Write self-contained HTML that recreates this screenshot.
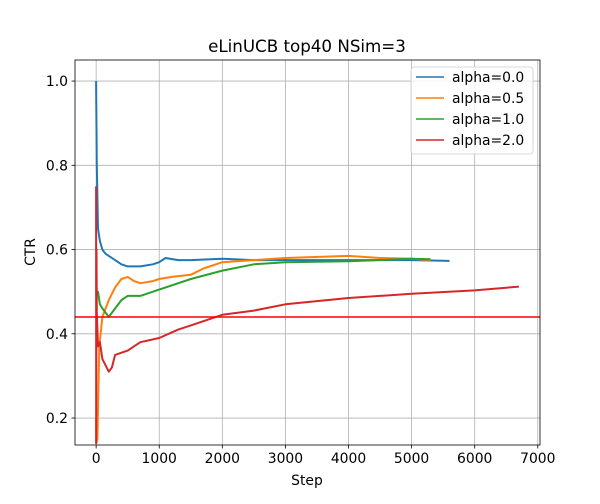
<!DOCTYPE html>
<html><head><meta charset="utf-8"><style>
body{margin:0;background:#fff;font-family:"DejaVu Sans","Liberation Sans",sans-serif}
</style></head><body>
<svg id="chart" width="600" height="500" font-family="DejaVu Sans, Liberation Sans, sans-serif">
<rect width="600" height="500" fill="#fff"/>
<text x="307" y="52" text-anchor="middle" font-size="16.7">eLinUCB top40 NSim=3</text>
<g id="grid"></g><g id="series"></g><g id="axes"></g>
<text x="307" y="485" text-anchor="middle" font-size="13.9">Step</text>
<text x="35" y="252" text-anchor="middle" font-size="13.9" transform="rotate(-90 35 252)">CTR</text>
<g id="legend"></g>
</svg>
<script>
const xTicks=[0,1000,2000,3000,4000,5000,6000,7000];
const yTicks=[0.2,0.4,0.6,0.8,1.0];
const seriesNames=["alpha=0.0","alpha=0.5","alpha=1.0","alpha=2.0"];
const colors=["#1f77b4","#ff7f0e","#2ca02c","#d62728"];
const stepsA=[0,10,30,60,100,150,200,300,400,500,700,900,1000,1100,1300,1500,2000,2500,3000,4000,5000,5600];
const valsA=[1.0,0.8,0.65,0.62,0.60,0.59,0.585,0.575,0.565,0.56,0.56,0.565,0.57,0.58,0.575,0.575,0.578,0.575,0.575,0.575,0.575,0.573];
const stepsB=[0,1,20,50,100,200,300,400,500,600,700,900,1000,1200,1500,1700,2000,2500,3000,4000,4500,5000,5300];
const valsB=[0.2,0.14,0.15,0.37,0.44,0.48,0.51,0.53,0.535,0.525,0.52,0.525,0.53,0.535,0.54,0.555,0.57,0.575,0.58,0.585,0.58,0.578,0.575];
const stepsC=[0,30,60,100,200,300,400,500,700,1000,1500,2000,2500,3000,4000,5000,5300];
const valsC=[0.5,0.5,0.47,0.46,0.44,0.46,0.48,0.49,0.49,0.505,0.53,0.55,0.565,0.57,0.572,0.578,0.577];
const stepsD=[0,1,5,10,30,60,100,200,250,300,500,700,1000,1300,1500,2000,2500,3000,4000,5000,6000,6700];
const valsD=[0.75,0.14,0.6,0.45,0.37,0.38,0.34,0.31,0.32,0.35,0.36,0.38,0.39,0.41,0.42,0.445,0.455,0.47,0.485,0.495,0.503,0.512];
const baseline=0.44;
const L=75,R=540,T=60,B=445,xmin=-335,xmax=7035,ymin=0.136,ymax=1.05;
const sx=v=>L+(v-xmin)/(xmax-xmin)*(R-L);
const sy=v=>B-(v-ymin)/(ymax-ymin)*(B-T);
const NS="http://www.w3.org/2000/svg";
function mk(tag,attrs,parent){const e=document.createElementNS(NS,tag);for(const k in attrs)e.setAttribute(k,attrs[k]);parent.appendChild(e);return e;}
const grid=document.getElementById('grid'),axes=document.getElementById('axes'),ser=document.getElementById('series'),leg=document.getElementById('legend');
xTicks.forEach(t=>{const x=sx(t);
 let g=mk('line',{x1:x,x2:x,y1:T,y2:B,stroke:'#b0b0b0','stroke-width':0.8},grid);
 
 mk('line',{x1:x,x2:x,y1:B,y2:B+3.5,stroke:'#000','stroke-width':0.8},axes);
 let tx=mk('text',{x:x,y:B+18,'text-anchor':'middle','font-size':13.9},axes);tx.textContent=t;
 });
yTicks.forEach(t=>{const y=sy(t);
 let g=mk('line',{x1:L,x2:R,y1:y,y2:y,stroke:'#b0b0b0','stroke-width':0.8},grid);
 
 mk('line',{x1:L-3.5,x2:L,y1:y,y2:y,stroke:'#000','stroke-width':0.8},axes);
 let tx=mk('text',{x:L-7,y:y+5,'text-anchor':'end','font-size':13.9},axes);tx.textContent=t.toFixed(1);
 });
const all=[[stepsA,valsA],[stepsB,valsB],[stepsC,valsC],[stepsD,valsD]];
all.forEach((s,i)=>{const d=s[0].map((st,j)=>(j?'L':'M')+sx(st).toFixed(1)+','+sy(s[1][j]).toFixed(1)).join('');
 let p=mk('path',{d:d,fill:'none',stroke:colors[i],'stroke-width':2,'stroke-linejoin':'round'},ser);
 });
let bl=mk('line',{x1:L,x2:R,y1:sy(baseline),y2:sy(baseline),stroke:'#ff0000','stroke-width':1.5},ser);

let fr=mk('rect',{x:L,y:T,width:R-L,height:B-T,fill:'none',stroke:'#000','stroke-width':0.8},axes);

let lb=mk('rect',{x:411,y:67,width:122,height:87,rx:3,fill:'#fff','fill-opacity':0.8,stroke:'#ccc','stroke-width':0.8},leg);

seriesNames.forEach((n,i)=>{const y=77+i*21;
 let l=mk('line',{x1:416,x2:444,y1:y,y2:y,stroke:colors[i],'stroke-width':1.5},leg);
 
 let t=mk('text',{x:452,y:y+5,'font-size':13.9},leg);t.textContent=n;
 });
</script>
</body></html>
